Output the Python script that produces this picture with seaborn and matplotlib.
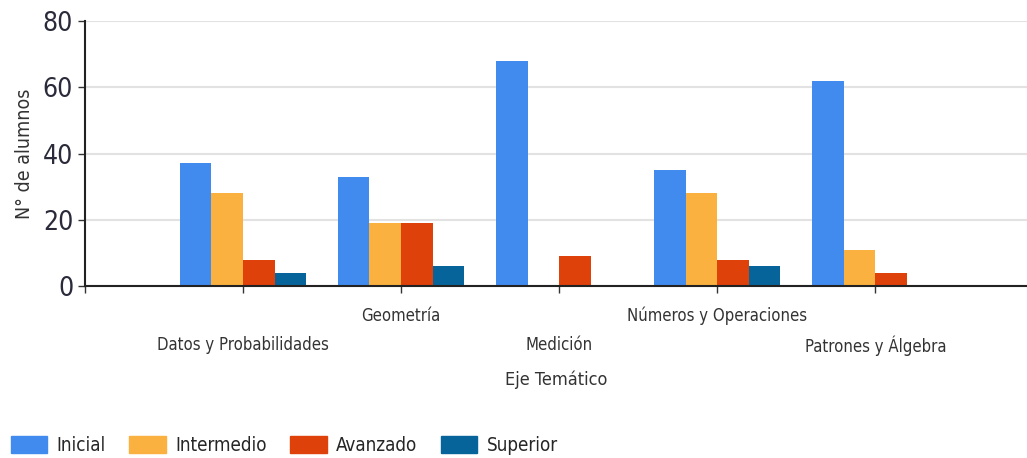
import pandas as pd
import matplotlib.pyplot as plt
import seaborn as sns

# values
ejes = ['Datos y Probabilidades', 'Geometría', 'Medición',
        'Números y Operaciones', 'Patrones y Álgebra']
niveles = ['Inicial', 'Intermedio', 'Avanzado', 'Superior']
inicial = [37, 33, 68, 35, 62]
intermedio = [28, 19, 0, 28, 11]
avanzado = [8, 19, 9, 8, 4]
superior = [4, 6, 0, 6, 0]

colores = ['#418bee', '#fbb13f', '#df410a', '#06649a']

df = pd.DataFrame({'eje': ejes, 'Inicial': inicial, 'Intermedio': intermedio,
                   'Avanzado': avanzado, 'Superior': superior})
long_df = df.melt(id_vars='eje', var_name='nivel', value_name='alumnos')

sns.set_style('white')
plt.rcParams['font.family'] = ['DejaVu Sans']
plt.rcParams['font.stretch'] = 'condensed'

fig = plt.figure(figsize=(10.27, 4.58), dpi=100)
ax = fig.add_axes([85 / 1027, 172 / 458, 942 / 1027, 265 / 458])

sns.barplot(data=long_df, x='eje', y='alumnos', hue='nivel', hue_order=niveles,
            palette=colores, width=0.8, saturation=1, ax=ax, legend=False,
            edgecolor='none', linewidth=0)

ax.set_ylim(0, 80)
ax.set_yticks([0, 20, 40, 60, 80])
ax.tick_params(axis='y', labelsize=19, length=5, width=1, color='#333333', left=True,
               labelcolor='#2a2a3a')
ax.yaxis.grid(True, color='#e2e2e2', linewidth=1.5)
ax.set_axisbelow(True)

ax.set_xlim(-1, 4.96)
ax.set_xticks([-1, 0, 1, 2, 3, 4])
ax.set_xticklabels([''] + ejes, fontsize=12, color='#333333')
ax.tick_params(axis='x', length=5, width=1, color='#333333', bottom=True)
for i, tick in enumerate(ax.xaxis.get_major_ticks()[1:]):
    tick.set_pad(31 if i % 2 == 0 else 10)

for side in ['top', 'right']:
    ax.spines[side].set_visible(False)
for side in ['left', 'bottom']:
    ax.spines[side].set_color('#222222')
    ax.spines[side].set_linewidth(1.5)

ax.set_xlabel('Eje Temático', fontsize=13, color='#333333', labelpad=10)
ax.set_ylabel('N° de alumnos', fontsize=14, color='#333333', labelpad=6)

handles = [plt.Rectangle((0, 0), 1, 1, color=c) for c in colores]
fig.legend(handles, niveles, loc='lower left', bbox_to_anchor=(-0.006, -0.03),
           ncol=4, frameon=False, fontsize=13.5, handlelength=1.95,
           handleheight=1.05, columnspacing=1.25, handletextpad=0.5)

fig.savefig('out.png', dpi=100)
